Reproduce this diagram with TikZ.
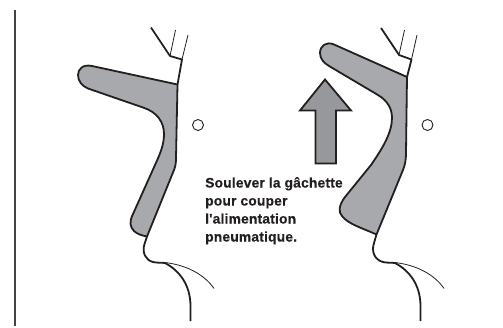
\documentclass[tikz,border=0pt]{standalone}
\usepackage{fontspec}
\setmainfont{Liberation Sans}
\newfontfamily\msgfont[LetterSpace=1.4,FakeBold=0.4]{Liberation Sans Bold}
\definecolor{trig}{HTML}{A7A9AC}
\definecolor{arr}{HTML}{97989B}
\definecolor{ink}{HTML}{231F20}
\tikzset{
  thick line/.style={draw=ink,line width=1.8pt,line join=round},
  thin line/.style={draw=ink,line width=0.8pt},
  trigger/.style={thick line,fill=trig},
  pivot/.style={circle,draw=ink,line width=0.9pt,minimum size=11pt,inner sep=0pt,fill=white},
}
\begin{document}
\begin{tikzpicture}[x=1pt,y=-1pt]
\useasboundingbox (0,0) rectangle (503,327);
\draw[draw=ink!85,line width=1.8pt] (15,10) -- (15,326);
% left figure
\draw[trigger] (177.5,84.5) -- (92,66) .. controls (83,64) and (78,69) .. (78,75)
  .. controls (78,81) and (82,86) .. (88,88.5) -- (143,107.5)
  .. controls (157,112) and (164,122) .. (164,134)
  .. controls (164,145) and (160,154) .. (155,165) -- (133,214)
  .. controls (129,222) and (130,227) .. (134,231)
  .. controls (137,234) and (142,235.5) .. (147,236.5)
  -- (174,170) .. controls (175.5,166) and (176,163) .. (176,158) -- (177.5,84.5) -- cycle;
\draw[thick line] (147,236.5) -- (144.5,244) .. controls (142,252) and (145,260) .. (153,262)
  .. controls (157,263) and (161,262.5) .. (165,263)
  .. controls (180,271) and (190,285) .. (190.5,305) -- (190.5,321);
\draw[thin line] (165,262.5) .. controls (186,265) and (204,274) .. (214,288.5);
\draw[thick line] (151,27.5) -- (170,56) -- (182,59.5) -- (177.5,84.5);
\draw[thin line] (170,56) -- (175.5,30);
\draw[thin line] (182,59.5) -- (188,35);
\node[pivot] (pivotL) at (198,125) {};
% right figure
\draw[trigger] (407,77) -- (334,44.5) .. controls (326,41) and (320,46) .. (320,53)
  .. controls (320,59) and (324,63) .. (329,66) -- (378,95)
  .. controls (388,101) and (392,109) .. (392,118)
  .. controls (392,133) and (382,149) .. (371,165) -- (345,197)
  .. controls (339,205) and (338,212) .. (342,216)
  .. controls (348,224) and (362,228) .. (376.5,234.5)
  -- (403,170) .. controls (405,165) and (406,160) .. (406,153) -- (407,77) -- cycle;
\draw[thick line] (376.5,234.5) -- (374,243) .. controls (371,252) and (375,260) .. (383,262)
  .. controls (387,263) and (391,262.5) .. (395,263)
  .. controls (410,271) and (420,285) .. (420.5,305) -- (420.5,321);
\draw[thin line] (395,262.5) .. controls (416,265) and (434,274) .. (444,288.5);
\draw[thick line] (381,28) -- (399,55) -- (411.5,59.5) -- (407,77);
\draw[thin line] (399,55) -- (404.5,30);
\draw[thin line] (411.5,59.5) -- (417,35);
\node[pivot] (pivotR) at (427.5,125) {};
% arrow
\draw[thick line,fill=arr,line join=miter] (325,79.5) -- (300,110.5) -- (315.5,110.5) -- (315.5,163.5) -- (336,163.5) -- (336,110.5) -- (351,110.5) -- cycle;
\node[anchor=north west,inner sep=0pt,align=left,text=ink,font=\msgfont\fontsize{13.8}{18}\selectfont] (msg) at (205,177) {Soulever la gâchette\\pour couper\\l'alimentation\\pneumatique.};
\end{tikzpicture}
\end{document}
